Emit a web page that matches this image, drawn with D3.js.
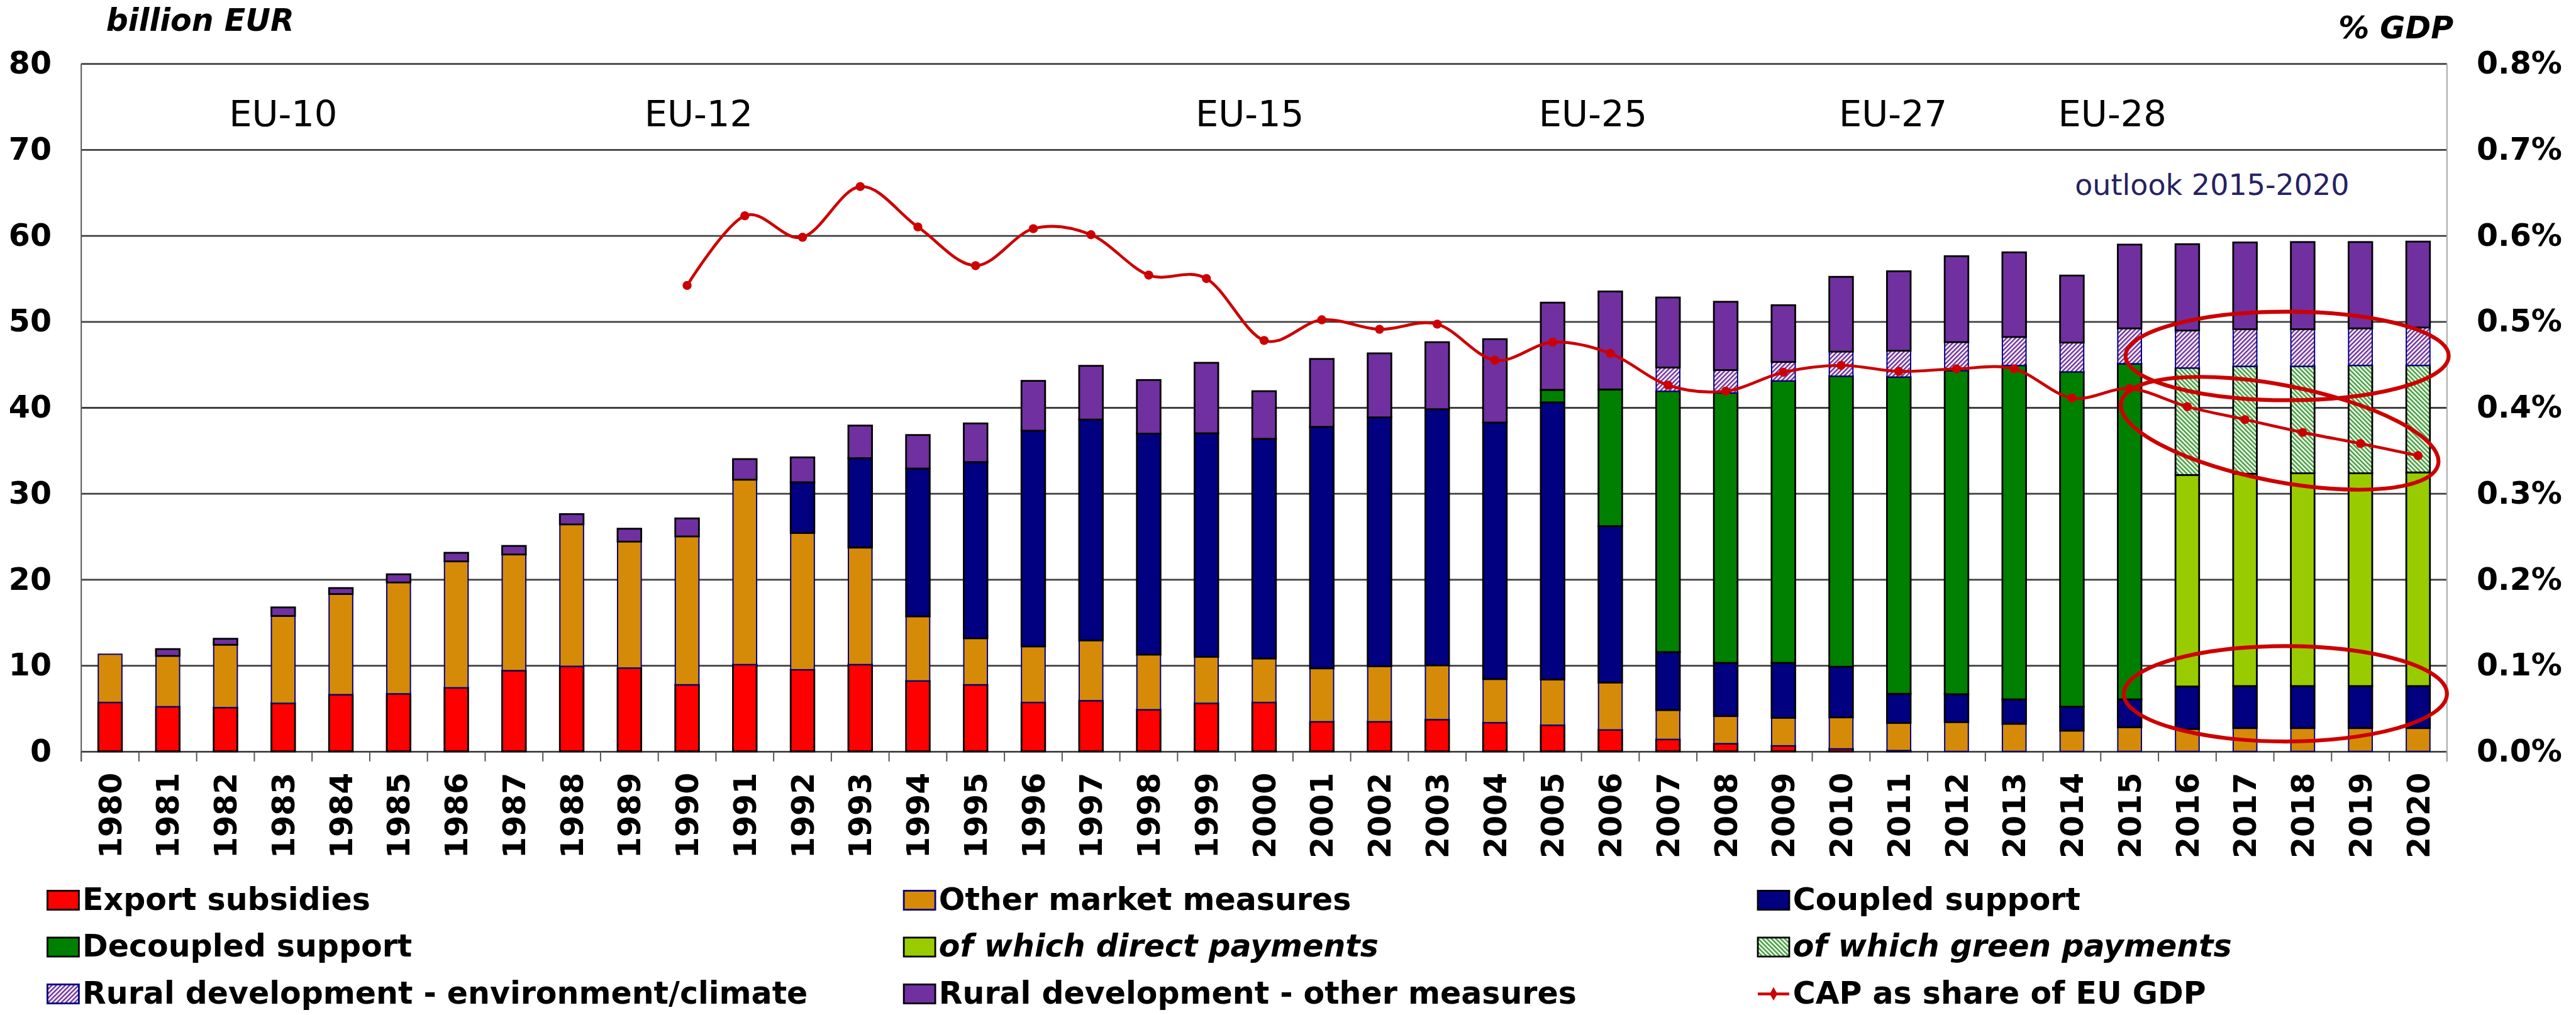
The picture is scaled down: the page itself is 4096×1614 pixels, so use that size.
<!DOCTYPE html>
<html><head><meta charset="utf-8">
<script src="https://cdn.jsdelivr.net/npm/d3@7"></script>
<style>html,body{margin:0;padding:0;background:#fff;overflow:hidden}svg{display:block}</style>
</head><body>
<svg id="chart" width="4096" height="1614"></svg>
<script>
// ---------------- DATA ----------------
const years = [1980,1981,1982,1983,1984,1985,1986,1987,1988,1989,
  1990,1991,1992,1993,1994,1995,1996,1997,1998,1999,
  2000,2001,2002,2003,2004,2005,2006,2007,2008,2009,
  2010,2011,2012,2013,2014,2015,2016,2017,2018,2019,2020];

const exportSubsidies = [5.7,5.2,5.1,5.6,6.6,6.7,7.4,9.4,9.9,9.7,
  7.75,10.1,9.5,10.1,8.2,7.75,5.7,5.9,4.85,5.6,
  5.7,3.45,3.45,3.7,3.35,3.05,2.5,1.4,0.9,0.65,
  0.3,0.1,0,0,0,0,0,0,0,0,0];
const otherMarketMeasures = [5.6,5.9,7.3,10.15,11.7,12.95,14.7,13.5,16.5,14.7,
  17.25,21.5,15.9,13.6,7.5,5.4,6.5,7.0,6.4,5.4,
  5.1,6.2,6.45,6.3,5.05,5.3,5.5,3.4,3.2,3.25,
  3.65,3.2,3.4,3.2,2.4,2.8,2.6,2.7,2.7,2.7,2.7];
const coupledSupport = [0,0,0,0,0,0,0,0,0,0,
  0,0,5.9,10.4,17.2,20.5,25.1,25.7,25.7,26.0,
  25.55,28.1,28.95,29.8,29.85,32.25,18.2,6.75,6.2,6.4,
  5.9,3.4,3.25,2.85,2.8,3.25,4.95,4.9,4.9,4.9,4.9];
const decoupledSupport = [0,0,0,0,0,0,0,0,0,0,
  0,0,0,0,0,0,0,0,0,0,
  0,0,0,0,0,1.45,15.9,30.35,31.4,32.8,
  33.8,36.85,37.65,38.85,38.95,39.05,0,0,0,0,0];
const directPayments = [0,0,0,0,0,0,0,0,0,0,
  0,0,0,0,0,0,0,0,0,0,
  0,0,0,0,0,0,0,0,0,0,
  0,0,0,0,0,0,24.6,24.7,24.75,24.75,24.85];
const greenPayments = [0,0,0,0,0,0,0,0,0,0,
  0,0,0,0,0,0,0,0,0,0,
  0,0,0,0,0,0,0,0,0,0,
  0,0,0,0,0,0,12.45,12.5,12.45,12.55,12.45];
const ruralEnvClimate = [0,0,0,0,0,0,0,0,0,0,
  0,0,0,0,0,0,0,0,0,0,
  0,0,0,0,0,0,0,2.75,2.65,2.2,
  2.85,3.05,3.3,3.3,3.4,4.1,4.35,4.3,4.3,4.3,4.4];
const ruralOther = [0,0.8,0.7,1.0,0.7,0.95,1.0,1.0,1.2,1.5,
  2.1,2.4,2.9,3.8,3.9,4.5,5.8,6.25,6.25,8.2,
  5.55,7.9,7.45,7.8,9.7,10.15,11.4,8.15,7.95,6.6,
  8.7,9.25,10.0,9.85,7.8,9.75,10.05,10.1,10.15,10.05,10.0];
const capShareGDP = [null,null,null,null,null,null,null,null,null,null,
  0.00542,0.00623,0.00598,0.00657,0.00610,0.00565,0.00608,0.00601,0.00554,0.00550,
  0.00478,0.00502,0.00491,0.00497,0.00455,0.00476,0.00463,0.00426,0.00419,0.00441,
  0.00449,0.00442,0.00445,0.00445,0.00411,0.00422,0.00401,0.00386,0.00371,0.00358,0.00344];

const leftTicks = [0,10,20,30,40,50,60,70,80];
const rightTicks = [0,0.001,0.002,0.003,0.004,0.005,0.006,0.007,0.008];

const seriesKeys = ["export","other","coupled","decoupled","direct","green","env","rural"];
const seriesLabels = ["Export subsidies","Other market measures","Coupled support",
  "Decoupled support","of which direct payments","of which green payments",
  "Rural development - environment/climate","Rural development - other measures"];
const lineLabel = "CAP as share of EU GDP";
const legendOrder = ["export","other","coupled","decoupled","direct","green","env","rural","line"];

const enlargementLabels = ["EU-10","EU-12","EU-15","EU-25","EU-27","EU-28"];
const enlargementAt = [1983.0,1990.2,1999.75,2005.7,2010.9,2014.7];
const outlookLabel = "outlook 2015-2020";

// ---------------- LAYOUT ----------------
const S = 0.943;
const L = 137*S, R = 4126*S, T = 107.3*S, B = 1267*S;
const FONT = "'DejaVu Sans', Verdana, sans-serif";

const fills = {export:"#FF0000", other:"#D68B08", coupled:"#000080", decoupled:"#008000",
  direct:"#99CC00", green:"url(#hatchGreen)", env:"url(#hatchPurple)", rural:"#7030A0"};
const strokes = {export:"#000", other:"#000080", coupled:"#000", decoupled:"#000",
  direct:"#000", green:"#000", env:"#000080", rural:"#000"};
const italicKeys = {direct:true, green:true};

const svg = d3.select("#chart").style("font-family", FONT);
const defs = svg.append("defs");
function hatch(id, color, angle){
  const p = defs.append("pattern").attr("id", id).attr("patternUnits","userSpaceOnUse")
    .attr("width",5).attr("height",5).attr("patternTransform",`rotate(${angle})`);
  p.append("rect").attr("width",5).attr("height",5).attr("fill","#fff");
  p.append("rect").attr("width",2.5).attr("height",5).attr("fill",color);
}
hatch("hatchPurple","#7030A0",45);
hatch("hatchGreen","#3E9E36",-45);

const x = d3.scaleBand().domain(years).range([L, R]).paddingInner(0.59).paddingOuter(0.295);
const step = x.step();
const xAt = yr => L + step*((yr - years[0]) + 0.5);
const y = d3.scaleLinear().domain([0,80]).range([B, T]);
const y2 = d3.scaleLinear().domain([0,0.008]).range([B, T]);

// gridlines
svg.append("g").attr("transform",`translate(${L},0)`)
  .call(d3.axisLeft(y).tickValues(leftTicks).tickSize(-(R-L)).tickFormat(""))
  .call(g => g.select(".domain").remove())
  .call(g => g.selectAll("line").attr("stroke","#404040").attr("stroke-width",2.8));

// category boundary ticks
const bounds = d3.range(years.length+1);
svg.append("g").selectAll("line").data(bounds).join("line")
  .attr("x1", i => L + step*i).attr("x2", i => L + step*i)
  .attr("y1", B).attr("y2", B + 17*S)
  .attr("stroke","#555").attr("stroke-width",2);
// vertical axis lines
svg.append("line").attr("x1",L).attr("x2",L).attr("y1",T).attr("y2",B+17*S).attr("stroke","#555").attr("stroke-width",2);
svg.append("line").attr("x1",R).attr("x2",R).attr("y1",T).attr("y2",B+17*S).attr("stroke","#A6A6A6").attr("stroke-width",2);

// stacked bars
const table = years.map((yr,i) => ({year:yr, export:exportSubsidies[i], other:otherMarketMeasures[i],
  coupled:coupledSupport[i], decoupled:decoupledSupport[i], direct:directPayments[i],
  green:greenPayments[i], env:ruralEnvClimate[i], rural:ruralOther[i]}));
const stacked = d3.stack().keys(seriesKeys)(table);
const barG = svg.append("g");
stacked.forEach(layer => {
  barG.append("g").selectAll("rect").data(layer.filter(d => d[1]-d[0] > 0.001)).join("rect")
    .attr("x", d => x(d.data.year)).attr("width", x.bandwidth())
    .attr("y", d => y(d[1])).attr("height", d => y(d[0]) - y(d[1]))
    .attr("fill", fills[layer.key]).attr("stroke", strokes[layer.key])
    .attr("stroke-width", strokes[layer.key] === "#000" ? 2.8 : 2);
});

// CAP share line
const linePts = years.map((yr,i) => ({year:yr, v:capShareGDP[i]}));
const line = d3.line().defined(d => d.v != null)
  .x(d => x(d.year) + x.bandwidth()/2).y(d => y2(d.v)).curve(d3.curveCardinal.tension(0));
svg.append("path").datum(linePts).attr("d", line).attr("fill","none")
  .attr("stroke","#CC0000").attr("stroke-width",4.6);
svg.append("g").selectAll("circle").data(linePts.filter(d => d.v != null)).join("circle")
  .attr("cx", d => x(d.year) + x.bandwidth()/2).attr("cy", d => y2(d.v)).attr("r", 7.2)
  .attr("fill","#CC0000");

// axes labels
svg.append("g").attr("transform",`translate(${L},0)`)
  .call(d3.axisLeft(y).tickValues(leftTicks).tickSize(0).tickPadding(50*S).tickFormat(d3.format("d")))
  .call(g => g.select(".domain").remove())
  .call(g => g.selectAll("text").attr("font-size",49).attr("font-weight","bold")
     .attr("font-family",FONT).attr("fill","#000"));
svg.append("g").attr("transform",`translate(${R},0)`)
  .call(d3.axisRight(y2).tickValues(rightTicks).tickSize(0).tickPadding(50*S).tickFormat(d3.format(".1%")))
  .call(g => g.select(".domain").remove())
  .call(g => g.selectAll("text").attr("font-size",49).attr("font-weight","bold")
     .attr("font-family",FONT).attr("fill","#000"));
svg.append("g").attr("transform",`translate(0,${B})`)
  .call(d3.axisBottom(x).tickSize(0).tickFormat(d3.format("d")))
  .call(g => g.select(".domain").remove())
  .call(g => g.selectAll("text").attr("font-size",49).attr("font-weight","bold")
     .attr("font-family",FONT).attr("fill","#000")
     .attr("transform","rotate(-90)").attr("x",-36*S).attr("y",0).attr("dy","0.36em")
     .attr("text-anchor","end"));

// titles
svg.append("text").attr("x",179*S).attr("y",52*S).attr("font-size",49).attr("font-weight","bold")
  .attr("font-style","italic").text("billion EUR");
svg.append("text").attr("x",4137*S).attr("y",65*S).attr("font-size",49).attr("font-weight","bold")
  .attr("font-style","italic").attr("text-anchor","end").text("% GDP");

// enlargement labels
svg.append("g").selectAll("text").data(enlargementLabels).join("text")
  .attr("x",(d,i) => xAt(enlargementAt[i])).attr("y", y(72.7))
  .attr("text-anchor","middle").attr("font-size",57.5).attr("fill","#000").text(d => d);
svg.append("text").attr("x", xAt(2016.43)).attr("y", y(64.76)).attr("text-anchor","middle")
  .attr("font-size",46).attr("fill","#262262").text(outlookLabel);

// annotation ellipses (in data units: year, value)
const rings = [{cx:2017.73, cy:46.0, rx:2.8, ry:5.15, rot:0},
               {cx:2017.6, cy:37.0, rx:2.8, ry:5.6, rot:11},
               {cx:2017.7, cy:6.7, rx:2.8, ry:5.55, rot:0}];
const unitY = y(0) - y(1);
svg.append("g").selectAll("ellipse").data(rings).join("ellipse")
  .attr("transform", d => `translate(${xAt(d.cx)},${y(d.cy)}) rotate(${d.rot})`)
  .attr("rx", d => d.rx*step).attr("ry", d => d.ry*unitY)
  .attr("fill","none").attr("stroke","#CC0000").attr("stroke-width",6.2);

// legend
const colX = [80*S, 1524*S, 2964*S];
const rowY = [1534*S, 1613*S, 1692*S];
const lg = svg.append("g");
legendOrder.forEach((k,i) => {
  const cx = colX[i%3], by = rowY[Math.floor(i/3)];
  const sw = 53*S, sh = 32*S;
  if (k === "line") {
    lg.append("line").attr("x1",cx).attr("x2",cx+sw).attr("y1",by-sh/2).attr("y2",by-sh/2)
      .attr("stroke","#CC0000").attr("stroke-width",4.6);
    lg.append("path").attr("d", d3.symbol(d3.symbolDiamond, 130)())
      .attr("transform",`translate(${cx+sw/2},${by-sh/2})`).attr("fill","#CC0000");
    lg.append("text").attr("x",cx+59*S).attr("y",by).attr("font-size",49).attr("font-weight","bold").text(lineLabel);
  } else {
    const idx = seriesKeys.indexOf(k);
    lg.append("rect").attr("x",cx).attr("y",by-sh).attr("width",sw).attr("height",sh)
      .attr("fill",fills[k]).attr("stroke",strokes[k]).attr("stroke-width",2.8);
    lg.append("text").attr("x",cx+59*S).attr("y",by).attr("font-size",49).attr("font-weight","bold")
      .attr("font-style", italicKeys[k] ? "italic" : "normal").text(seriesLabels[idx]);
  }
});
</script></body></html>
